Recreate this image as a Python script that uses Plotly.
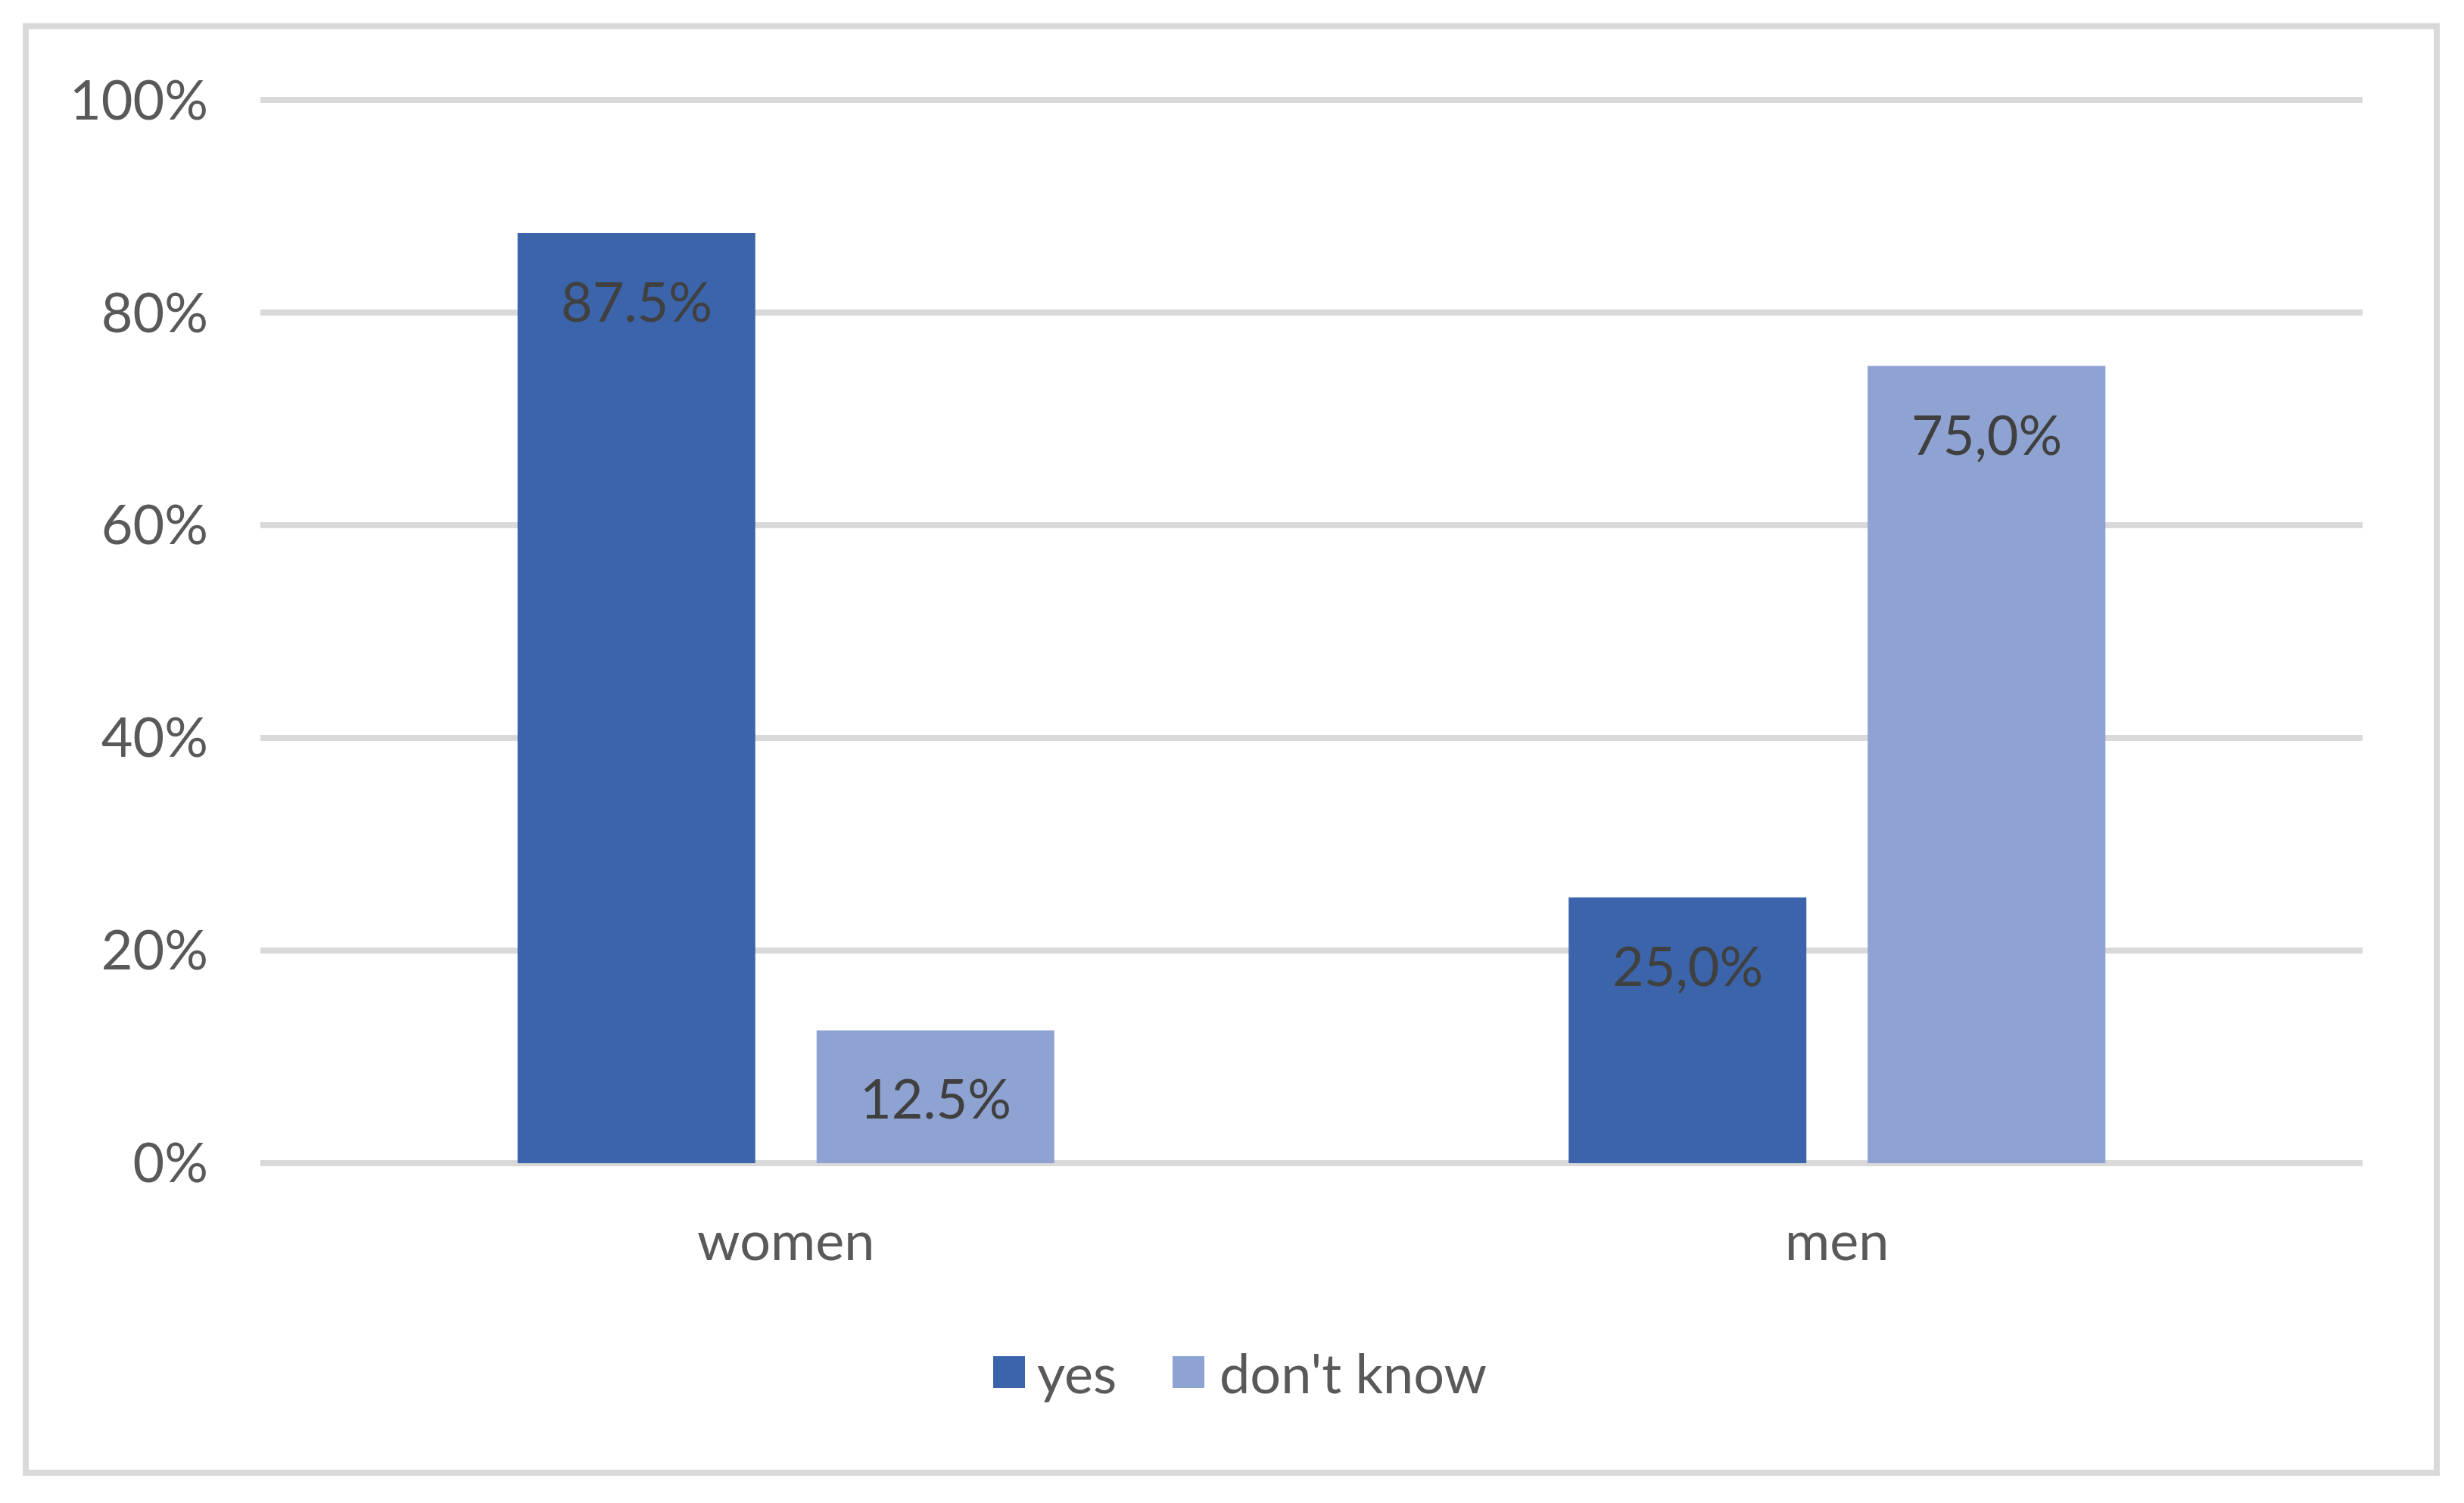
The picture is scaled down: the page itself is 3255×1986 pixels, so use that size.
import plotly.graph_objects as go

# ---- data ----
categories = ["women", "men"]
series_names = ["yes", "don't know"]
yes_values = [0.875, 0.25]
dk_values = [0.125, 0.75]
yes_labels = ["87.5%", "25,0%"]
dk_labels = ["12.5%", "75,0%"]
y_ticks = [0, 0.2, 0.4, 0.6, 0.8, 1.0]
y_tick_labels = ["0%", "20%", "40%", "60%", "80%", "100%"]

# ---- style ----
W, H = 3255, 1986
YMAX = 1.006
PL, PR, PB = 344, 3121, 1537
P100 = 132  # pixel row of the 100% gridline
PT = PB - (PB - P100) * YMAX  # top of plot area
C_YES = "#3C64AA"
C_DK = "#8FA3D3"
GRID = "#D9D9D9"
TXT = "#595959"
LBL = "#404040"
FONT = "Lato"
FS = 72
BARGAP = 0.431
BARGROUPGAP = 0.205


def px_x(px):
    return (px - PL) / (PR - PL)


def px_y(py):
    return (PB - py) / (PB - PT)


fig = go.Figure()
fig.add_trace(go.Bar(x=categories, y=yes_values, name=series_names[0],
                     marker=dict(color=C_YES, line=dict(width=0)), showlegend=False))
fig.add_trace(go.Bar(x=categories, y=dk_values, name=series_names[1],
                     marker=dict(color=C_DK, line=dict(width=0)), showlegend=False))

# data labels, placed at bar centres derived from bar gap settings
offset = (1 - BARGAP) / 4
annotations = []
for i, cat in enumerate(categories):
    for vals, labs, sgn in ((yes_values, yes_labels, -1), (dk_values, dk_labels, 1)):
        annotations.append(dict(
            x=i + sgn * offset, y=vals[i], xref="x", yref="y",
            text=labs[i], showarrow=False, yanchor="middle", xanchor="center",
            yshift=-89, font=dict(family=FONT, size=FS, color=LBL)))

# manual legend
shapes = []
legend_items = [(series_names[0], C_YES, 1312, 1368), (series_names[1], C_DK, 1549, 1609)]
LEG_Y = 1813
SQ = 42
for name, col, sx, tx in legend_items:
    shapes.append(dict(type="rect", xref="paper", yref="paper",
                       x0=px_x(sx), x1=px_x(sx + SQ), y0=px_y(LEG_Y - SQ / 2), y1=px_y(LEG_Y + SQ / 2),
                       fillcolor=col, line=dict(width=0)))
    annotations.append(dict(x=px_x(tx), y=px_y(LEG_Y), xref="paper", yref="paper",
                            text=name, showarrow=False, xanchor="left", yanchor="middle",
                            font=dict(family=FONT, size=FS, color=TXT)))

# outer chart frame
shapes.append(dict(type="rect", xref="paper", yref="paper",
                   x0=px_x(34), x1=px_x(3219), y0=px_y(1946), y1=px_y(34),
                   line=dict(color=GRID, width=8), fillcolor="rgba(0,0,0,0)", layer="below"))

fig.update_layout(
    width=W, height=H,
    margin=dict(l=PL, r=W - PR, t=PT, b=H - PB, pad=0),
    paper_bgcolor="white", plot_bgcolor="white",
    barmode="group", bargap=BARGAP, bargroupgap=BARGROUPGAP,
    font=dict(family=FONT, size=FS, color=TXT),
    showlegend=False,
    annotations=annotations, shapes=shapes,
    xaxis=dict(showgrid=False, showline=False, zeroline=False, ticks="",
               tickfont=dict(family=FONT, size=FS, color=TXT), ticklabelstandoff=55),
    yaxis=dict(range=[0, YMAX], tickvals=y_ticks, ticktext=y_tick_labels,
               showgrid=True, gridcolor=GRID, gridwidth=8,
               zeroline=True, zerolinecolor=GRID, zerolinewidth=8,
               showline=False, ticks="",
               tickfont=dict(family=FONT, size=FS, color=TXT), ticklabelstandoff=68),
)

fig.write_html("out.html", config={"displayModeBar": False},
               post_script="document.body.style.margin='0';document.body.style.overflow='hidden';")
